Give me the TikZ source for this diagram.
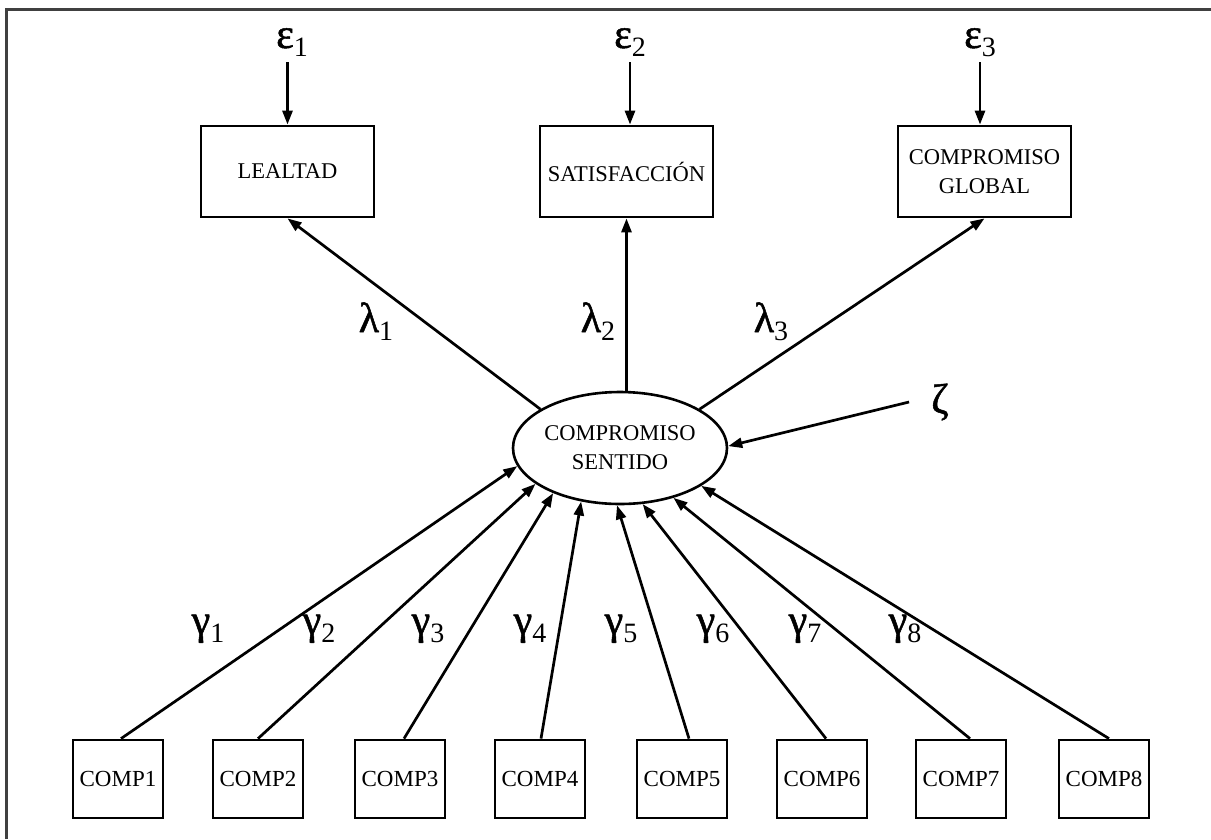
\documentclass[tikz,border=0pt]{standalone}
\usepackage{fontspec}
\setmainfont{Liberation Serif}
\newfontfamily\grk[FakeBold=1.2]{Liberation Serif}
\usetikzlibrary{arrows.meta,shapes.geometric,calc}
% Greek coefficient with a lowered index
\newcommand{\glab}[2]{{\grk\fontsize{42}{42}\selectfont #1}\raisebox{-8pt}{\fontsize{28}{28}\selectfont #2}}
\newcommand{\gsym}[1]{{\grk\fontsize{42}{42}\selectfont #1}}

\begin{document}
\begin{tikzpicture}[x=1pt,y=-1pt,
  obs/.style={draw,line width=2.8pt,minimum width=173pt,minimum height=91pt,
    inner sep=0pt,align=center,font=\fontsize{22.5}{29}\selectfont},
  cbox/.style={draw,line width=2.8pt,minimum width=90pt,minimum height=78pt,
    inner sep=0pt,font=\fontsize{23}{26}\selectfont},
  lat/.style={draw,ellipse,line width=2.6pt,minimum width=214pt,minimum height=112pt,
    inner sep=0pt,align=center,font=\fontsize{22.5}{29}\selectfont},
  conn/.style={line width=2.7pt,-{Triangle[length=14pt,width=10pt]}},
  glbl/.style={inner sep=0pt,anchor=base}
]
\useasboundingbox (0,0) rectangle (1211,839);

% frame (left and top edges)
\draw[line width=3pt,black!75] (6.5,839) -- (6.5,9) -- (1211,9);

% indicators
\node[obs] (leal) at (287.5,171.5) {LEALTAD};
\node[obs] (sat)  at (626.5,171.5) {SATISFACCIÓN};
\node[obs] (glob) at (984.5,171.5) {COMPROMISO\\GLOBAL};

% latent construct
\node[lat] (ell) at (620,448) {COMPROMISO\\SENTIDO};

% components
\node[cbox] (c1) at (118,779)  {COMP1};
\node[cbox] (c2) at (258,779)  {COMP2};
\node[cbox] (c3) at (400,779)  {COMP3};
\node[cbox] (c4) at (540,779)  {COMP4};
\node[cbox] (c5) at (682,779)  {COMP5};
\node[cbox] (c6) at (822,779)  {COMP6};
\node[cbox] (c7) at (961,779)  {COMP7};
\node[cbox] (c8) at (1104,779) {COMP8};

% error terms
\node[glbl] (e1) at (292,48) {\glab{ε}{1}};
\node[glbl] (e2) at (630,48) {\glab{ε}{2}};
\node[glbl] (e3) at (980,48) {\glab{ε}{3}};
\node[inner sep=0pt] (zeta) at (940,402) {\gsym{ζ}};

\draw[conn] ([yshift=-14pt]e1.base -| leal.north) -- (leal.north);
\draw[conn] ([yshift=-14pt]e2.base) -- (e2.base |- sat.north);
\draw[conn] ([yshift=-14pt]e3.base) -- (e3.base |- glob.north);
\draw[conn] ([xshift=-22pt]zeta.west) -- (ell.1);

% loadings
\draw[conn] (ell.154) -- (leal.south);
\draw[conn] (sat.south |- ell.north) -- (sat.south);
\draw[conn] (ell.26) -- (glob.south);
\node[glbl] (l1) at (376,332) {\glab{λ}{1}};
\node[glbl] (l2) at (598,332) {\glab{λ}{2}};
\node[glbl] (l3) at (771,332) {\glab{λ}{3}};

% structural paths
\draw[conn] ([xshift=3pt]c1.north) -- (ell.190);
\draw[conn] (c2.north) -- (ell.203);
\draw[conn] ([xshift=4pt]c3.north) -- (ell.214);
\draw[conn] ([xshift=1pt]c4.north) -- (ell.234);
\draw[conn] ([xshift=7pt]c5.north) -- (ell.267);
\draw[conn] ([xshift=4pt]c6.north) -- (ell.292);
\draw[conn] ([xshift=9pt]c7.north) -- (ell.317);
\draw[conn] ([xshift=5pt]c8.north) -- (ell.335);

\node[glbl] (g1) at (208,634) {\glab{γ}{1}};
\node[glbl] (g2) at (319,634) {\glab{γ}{2}};
\node[glbl] (g3) at (428,634) {\glab{γ}{3}};
\node[glbl] (g4) at (530,634) {\glab{γ}{4}};
\node[glbl] (g5) at (621,634) {\glab{γ}{5}};
\node[glbl] (g6) at (713,634) {\glab{γ}{6}};
\node[glbl] (g7) at (805,634) {\glab{γ}{7}};
\node[glbl] (g8) at (905,634) {\glab{γ}{8}};
\end{tikzpicture}
\end{document}
